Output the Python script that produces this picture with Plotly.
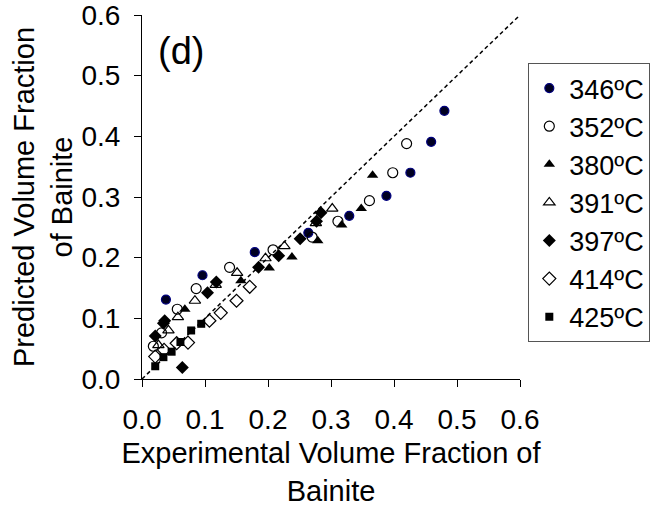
import plotly.graph_objects as go

# ---- data (experimental, predicted) ----
s346_x = [0.480, 0.459, 0.426, 0.388, 0.329, 0.264, 0.179, 0.096, 0.038]
s346_y = [0.442, 0.391, 0.340, 0.302, 0.269, 0.241, 0.209, 0.171, 0.131]

s352_x = [0.420, 0.398, 0.361, 0.311, 0.270, 0.208, 0.139, 0.086, 0.056, 0.031, 0.018]
s352_y = [0.388, 0.340, 0.294, 0.260, 0.234, 0.213, 0.184, 0.149, 0.115, 0.076, 0.054]

s380_x = [0.366, 0.348, 0.317, 0.279, 0.238, 0.202, 0.157, 0.068]
s380_y = [0.336, 0.281, 0.254, 0.228, 0.201, 0.183, 0.162, 0.115]

s391_x = [0.302, 0.276, 0.226, 0.196, 0.151, 0.117, 0.084, 0.057, 0.042, 0.026]
s391_y = [0.281, 0.257, 0.219, 0.199, 0.175, 0.155, 0.129, 0.102, 0.080, 0.056]

s397_x = [0.284, 0.277, 0.251, 0.217, 0.185, 0.118, 0.104, 0.036, 0.034, 0.021, 0.064]
s397_y = [0.274, 0.260, 0.231, 0.203, 0.184, 0.160, 0.142, 0.096, 0.092, 0.071, 0.019]

s414_x = [0.171, 0.150, 0.125, 0.107, 0.073, 0.055, 0.035, 0.021]
s414_y = [0.152, 0.129, 0.109, 0.096, 0.060, 0.059, 0.048, 0.037]

s425_x = [0.094, 0.078, 0.061, 0.047, 0.034, 0.021]
s425_y = [0.091, 0.080, 0.061, 0.045, 0.036, 0.021]

line_x = [0.0, 0.6]
line_y = [0.0, 0.6]

FONT = "Liberation Sans, Arial, sans-serif"

fig = go.Figure()

fig.add_trace(go.Scatter(x=line_x, y=line_y, mode="lines", showlegend=False,
                         line=dict(color="black", width=1.5, dash="4px,3px"),
                         hoverinfo="skip"))

series = [
    ("346ºC", s346_x, s346_y, dict(symbol="circle", size=9, color="#000022",
                                   line=dict(color="#000080", width=1.2))),
    ("352ºC", s352_x, s352_y, dict(symbol="circle-open", size=10, color="black",
                                   line=dict(width=1.2))),
    ("380ºC", s380_x, s380_y, dict(symbol="triangle-up", size=10, color="black")),
    ("391ºC", s391_x, s391_y, dict(symbol="triangle-up-open", size=10, color="black",
                                   line=dict(width=1.2))),
    ("397ºC", s397_x, s397_y, dict(symbol="diamond", size=10, color="black")),
    ("414ºC", s414_x, s414_y, dict(symbol="diamond-open", size=10, color="black",
                                   line=dict(width=1.2))),
    ("425ºC", s425_x, s425_y, dict(symbol="square", size=8, color="black")),
]
for name, xs, ys, mk in series:
    fig.add_trace(go.Scatter(x=xs, y=ys, mode="markers", name=name, marker=mk))

axis_common = dict(range=[0, 0.6], dtick=0.1, tickformat=".1f", showgrid=False,
                   zeroline=False, showline=True, linecolor="black", linewidth=1,
                   ticks="outside", ticklen=7, tickcolor="black", tickwidth=1,
                   automargin=False, ticklabeloverflow="allow",
                   tickfont=dict(family=FONT, size=28, color="black"))

fig.update_layout(
    width=662, height=507,
    margin=dict(l=142, r=138, t=15, b=128),
    paper_bgcolor="white", plot_bgcolor="white",
    font=dict(family=FONT, color="black"),
    xaxis=dict(**axis_common, ticklabelstandoff=8,
               title=dict(text="Experimental Volume Fraction of<br>Bainite",
                          font=dict(family=FONT, size=29), standoff=17)),
    yaxis=dict(**axis_common, ticklabelstandoff=8,
               title=dict(text="Predicted Volume Fraction<br>of Bainite",
                          font=dict(family=FONT, size=29), standoff=0)),
    legend=dict(x=1.022, xanchor="left", y=0.868, yanchor="top",
                bordercolor="#555555", borderwidth=1, bgcolor="white",
                font=dict(family=FONT, size=27, color="black")),
    annotations=[dict(text="(d)", x=0.062, y=0.54, xref="x", yref="y",
                      showarrow=False, font=dict(family=FONT, size=38),
                      xanchor="center", yanchor="middle")],
)

fig.write_html("out.html")
